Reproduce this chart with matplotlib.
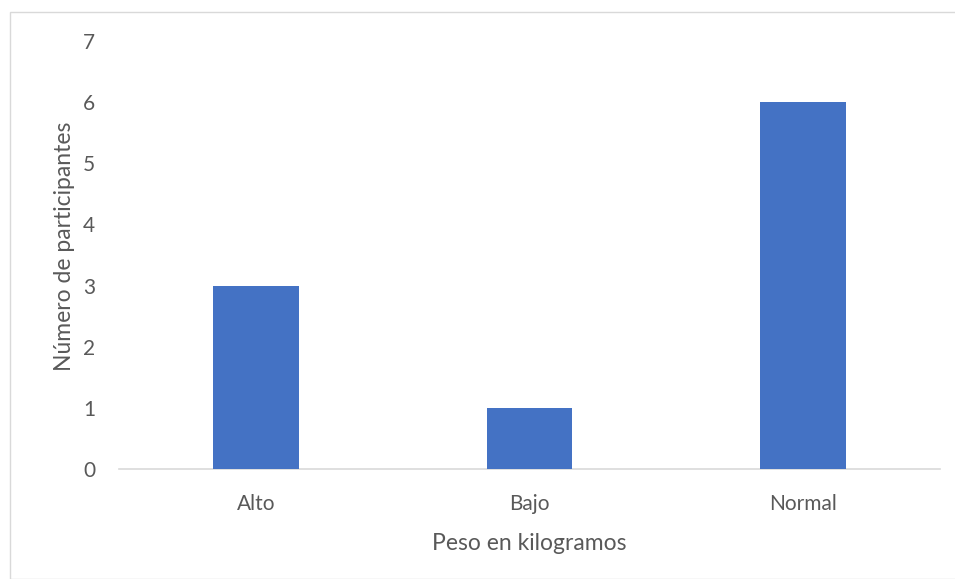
import matplotlib as mpl
mpl.use('Agg')
import matplotlib.pyplot as plt
from matplotlib.patches import Rectangle

# datos del grafico
categorias = ['Alto', 'Bajo', 'Normal']
participantes = [3, 1, 6]
ticks_y = [0, 1, 2, 3, 4, 5, 6, 7]

plt.rcParams['font.family'] = ['Lato', 'DejaVu Sans']
gris = '#595959'

fig = plt.figure(figsize=(9.55, 5.79), dpi=100)
ax = fig.add_axes([0.1246, 0.19, 0.8597, 0.7392])

x = range(len(categorias))
ax.bar(x, participantes, width=0.314, color='#4472C4', zorder=3)

ax.set_xlim(-0.5, len(categorias) - 0.5)
ax.set_ylim(0, 7)
ax.set_xticks(list(x))
ax.set_xticklabels(categorias)
ax.set_yticks(ticks_y)

for s in ['top', 'right', 'left']:
    ax.spines[s].set_visible(False)
ax.spines['bottom'].set_color('#d9d9d9')
ax.spines['bottom'].set_linewidth(1.2)
ax.tick_params(axis='both', length=0, labelsize=15, colors=gris)
ax.tick_params(axis='y', pad=17)
ax.tick_params(axis='x', pad=18)

ax.set_xlabel('Peso en kilogramos', fontsize=16.5, color=gris, labelpad=14)
ax.set_ylabel('Número de participantes', fontsize=16.5, color=gris)
ax.yaxis.set_label_coords(-0.053, 0.52)

# borde del area del grafico
fig.patches.append(Rectangle((10 / 955, 0), 1, 1 - 12 / 579, transform=fig.transFigure,
                             fill=False, edgecolor='#d9d9d9', linewidth=1))

plt.savefig('out.png', dpi=100)
